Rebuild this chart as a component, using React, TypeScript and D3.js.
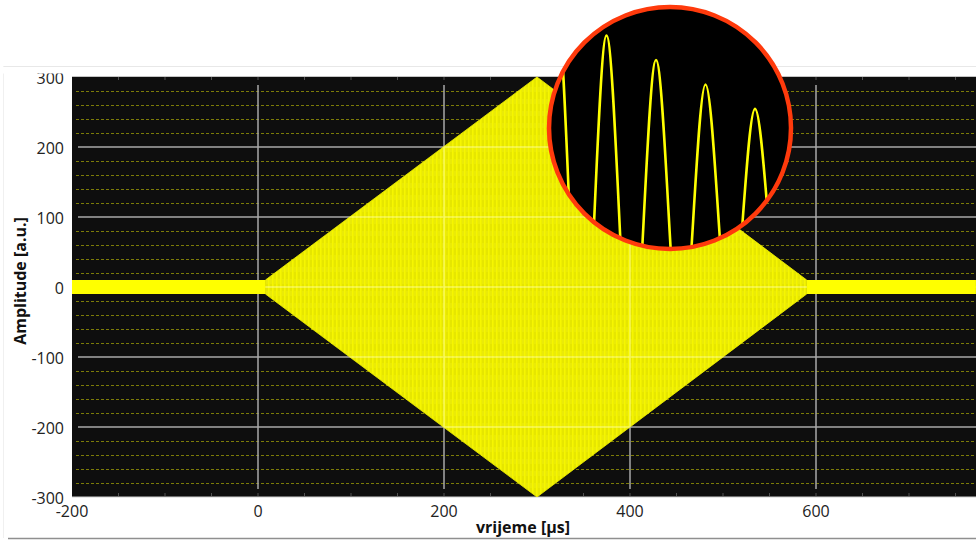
import React from "react";
import * as d3 from "d3";

// Envelope of the signal (time in µs, half-amplitude in a.u.)
const envTime = [-200, 8, 300, 590, 772];
const envAmp = [10, 10, 300, 10, 10];

// Tick labels
const xTicks = [-200, 0, 200, 400, 600];
const yTicks = [-300, -200, -100, 0, 100, 200, 300];
const xGrid = [0, 200, 400, 600];
const yGrid = [-200, -100, 0, 100, 200];

// Inset (zoomed waveform): relative peak heights of successive cycles
const insetPeaks = [1.0, 0.88, 0.76, 0.64, 0.52, 0.4, 0.28];

const W = 976;
const H = 540;

export default function App() {
  const x = d3.scaleLinear().domain([-200, 772.04]).range([72, 976]);
  const y = d3.scaleLinear().domain([-300, 300]).range([497, 77]);

  const env = envTime.map((t, i) => ({ t, a: envAmp[i] }));
  const area = d3
    .area<{ t: number; a: number }>()
    .x((d) => x(d.t))
    .y0((d) => y(-d.a))
    .y1((d) => y(d.a));
  const diamond = env.filter((d) => d.t >= envTime[1] && d.t <= envTime[3]);
  const bandL = env.filter((d) => d.t <= envTime[1]);
  const bandR = env.filter((d) => d.t >= envTime[3]);

  const minorY = d3.range(-280, 300, 20).filter((v) => v % 100 !== 0);
  const minorX = d3.range(-150, 772, 50);

  // inset
  const cx = 670, cy = 128, r = 121;
  const xi = d3.scaleLinear().domain([0, 1]).range([557, 606.5]);
  const yi = d3.scaleLinear().domain([-1, 1]).range([215 + 204, 215 - 204]);
  const insetPts: [number, number][] = [];
  insetPts.push([xi(-0.5), yi(-insetPeaks[0])]);
  insetPeaks.forEach((p, k) => {
    insetPts.push([xi(k), yi(p)]);
    if (k < insetPeaks.length - 1) {
      insetPts.push([xi(k + 0.5), yi(-(p + insetPeaks[k + 1]) / 2)]);
    }
  });
  const insetLine = d3.line().curve(d3.curveMonotoneX)(insetPts) || "";

  const font = "'Open Sans', 'Segoe UI', sans-serif";

  return (
    <svg
      width={W}
      height={H}
      style={{ position: "absolute", left: 0, top: 0, background: "#fff" }}
      fontFamily={font}
    >
      <defs>
        <pattern id="stripes" patternUnits="userSpaceOnUse" width="4" height="12">
          <rect width="4" height="12" fill="#e6e600" />
          <rect x="0" width="1.6" height="12" fill="#f6f600" />
          <rect x="2.6" y="3" width="0.8" height="5" fill="#f0f018" />
        </pattern>
        <clipPath id="diamondClip">
          <path d={area(diamond) || ""} />
        </clipPath>
        <clipPath id="plotClip">
          <rect x={72} y={76} width={W - 72} height={421} />
        </clipPath>
        <clipPath id="insetClip">
          <circle cx={cx} cy={cy} r={r} />
        </clipPath>
      </defs>

      {/* frame lines */}
      <line x1={3} x2={W} y1={66.5} y2={66.5} stroke="#e8e8e8" />
      <line x1={3.5} x2={3.5} y1={66} y2={538} stroke="#f0f0f0" />
      <line x1={8} x2={W} y1={538.5} y2={538.5} stroke="#8f8f8f" strokeWidth={1.5} />

      {/* plot background */}
      <rect x={72} y={76} width={W - 72} height={421} fill="#0e0e0e" />
      <line x1={72} x2={W} y1={76.5} y2={76.5} stroke="#c4c4c4" />
      <line x1={72} x2={W} y1={497} y2={497} stroke="#d0d0d0" />

      <g clipPath="url(#plotClip)">
        {/* minor dashed grid */}
        {minorY.map((v) => (
          <line
            key={"my" + v}
            x1={76}
            x2={W}
            y1={Math.round(y(v)) + 0.5}
            y2={Math.round(y(v)) + 0.5}
            stroke="#7c7c08"
            strokeDasharray="3,2"
          />
        ))}
        {/* major grid */}
        {yGrid.map((v) => (
          <line key={"gy" + v} x1={78} x2={W} y1={y(v)} y2={y(v)} stroke="#a9a9a9" strokeWidth={1.5} />
        ))}
        {xGrid.map((v) => (
          <line key={"gx" + v} x1={x(v)} x2={x(v)} y1={85} y2={489} stroke="#a9a9a9" strokeWidth={1.5} />
        ))}
        {/* minor ticks top/bottom */}
        {minorX.map((v) => (
          <g key={"mx" + v}>
            <line x1={x(v)} x2={x(v)} y1={77} y2={80} stroke="#505050" />
            <line x1={x(v)} x2={x(v)} y1={493} y2={496} stroke="#505050" />
          </g>
        ))}

        {/* signal */}
        <path d={area(bandL) || ""} fill="#ffff00" />
        <path d={area(bandR) || ""} fill="#ffff00" />
        <path d={area(diamond) || ""} fill="url(#stripes)" stroke="#f4f400" strokeWidth={0.8} />
        <g clipPath="url(#diamondClip)" opacity={0.55}>
          {yGrid.map((v) => (
            <line key={"dy" + v} x1={78} x2={W} y1={y(v)} y2={y(v)} stroke="#ffffa8" strokeWidth={1.5} />
          ))}
          {xGrid.map((v) => (
            <line key={"dx" + v} x1={x(v)} x2={x(v)} y1={85} y2={489} stroke="#ffffa8" strokeWidth={1.5} />
          ))}
        </g>
      </g>

      {/* y tick labels */}
      {yTicks.map((v) => (
        <text
          key={"yt" + v}
          x={64}
          y={y(v) + 1}
          textAnchor="end"
          dominantBaseline="central"
          fontSize={16}
          fill="#222"
        >
          {v}
        </text>
      ))}
      <rect x={0} y={67} width={72} height={6.5} fill="#fff" />

      {/* x tick labels */}
      {xTicks.map((v) => (
        <text
          key={"xt" + v}
          x={x(v)}
          y={511}
          textAnchor="middle"
          dominantBaseline="central"
          fontSize={16}
          fill="#222"
        >
          {v}
        </text>
      ))}

      {/* axis titles */}
      <text x={523} y={533} textAnchor="middle" fontSize={16} fontWeight="bold" fill="#111">
        vrijeme [µs]
      </text>
      <text
        transform="translate(20,281) rotate(-90)"
        textAnchor="middle"
        dominantBaseline="central"
        fontSize={16}
        fontWeight="bold"
        fill="#111"
      >
        Amplitude [a.u.]
      </text>

      {/* inset */}
      <circle cx={cx} cy={cy} r={r} fill="#000" />
      <g clipPath="url(#insetClip)">
        <path d={insetLine} fill="none" stroke="#ffff00" strokeWidth={2.6} />
      </g>
      <circle cx={cx} cy={cy} r={r} fill="none" stroke="#ff3a0c" strokeWidth={4.5} />
    </svg>
  );
}
